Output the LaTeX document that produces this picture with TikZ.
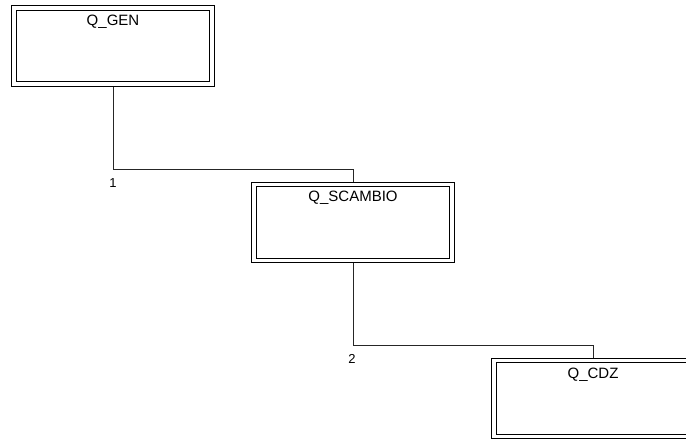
\documentclass[tikz,border=0pt]{standalone}
\usepackage{fontspec}
\setmainfont{Liberation Sans}
\tikzset{
  panel/.style={draw=black, line width=0.8pt, double, double distance=3.6pt,
    minimum width=198pt, minimum height=76pt, outer sep=2.8pt, inner sep=0pt},
  title/.style={font=\fontsize{15}{18}\selectfont, inner sep=0pt},
  num/.style={font=\fontsize{13}{15}\selectfont, inner sep=0pt},
  link/.style={draw=black!85, line width=0.8pt}
}
\begin{document}
\begin{tikzpicture}[x=1pt, y=-1pt]
      \useasboundingbox (0,0) rectangle (686,441);
      \clip (0,0) rectangle (686,441);
      \draw
        (113,46) node[panel] (gen){}
        (353,222.5) node[panel] (scambio){}
        (593,398.5) node[panel] (cdz){};
      \draw
        (113,22) node[title] (gent){Q\_GEN}
        (353,198) node[title] (scambiot){Q\_SCAMBIO}
        (593,375) node[title] (cdzt){Q\_CDZ};
      \coordinate (j1) at (113,169);
      \coordinate (j2) at (353,345);
      \draw
        (113,183) node[num] (n1){1}
        (352,359) node[num] (n2){2};
      \begin{scope}[link]
        \draw (gen.south) -- (j1) -| (scambio.north);
        \draw (scambio.south) -- (j2) -| (cdz.north);
      \end{scope}
    \end{tikzpicture}
\end{document}
